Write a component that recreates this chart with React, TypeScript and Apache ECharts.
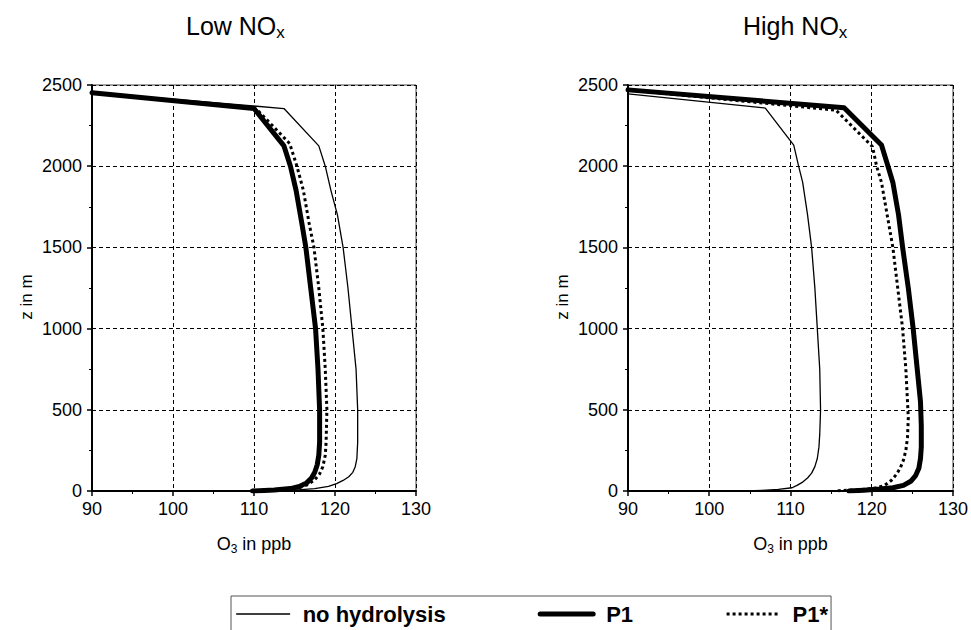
import React, { useEffect, useRef } from "react";
import * as echarts from "echarts";

// [O3 in ppb, z in m]
const lowNoHydrolysis: [number, number][] = [
  [90, 2455], [113.7, 2355], [118.0, 2125], [118.8, 2000], [119.5, 1850], [120.3, 1700],
  [121.0, 1500], [121.6, 1250], [122.1, 1000], [122.6, 750], [122.8, 500], [122.8, 300],
  [122.7, 200], [122.5, 150], [122.2, 115], [121.7, 88], [121.0, 65], [120.2, 45],
  [119.2, 28], [117.5, 14], [115.0, 5], [110, 0],
];
const lowP1: [number, number][] = [
  [90, 2452], [110, 2355], [113.7, 2125], [114.5, 2000], [115.2, 1850], [115.9, 1650],
  [116.4, 1500], [117.0, 1250], [117.6, 1000], [117.9, 750], [118.1, 500], [118.1, 300],
  [118.0, 220], [117.8, 160], [117.5, 115], [117.1, 80], [116.5, 50], [115.6, 28],
  [114.5, 15], [112.5, 6], [109.8, 0],
];
const lowP1Star: [number, number][] = [
  [90, 2452], [110.3, 2352], [114.4, 2140], [115.3, 2000], [116.1, 1850], [116.8, 1650],
  [117.4, 1500], [118.0, 1250], [118.5, 1000], [118.8, 750], [119.0, 500], [118.9, 300],
  [118.8, 220], [118.5, 150], [118.1, 105], [117.5, 70], [116.7, 40], [115.5, 20],
  [113.5, 8], [110, 0],
];
const highNoHydrolysis: [number, number][] = [
  [90, 2445], [106.9, 2358], [110.4, 2130], [111.0, 2000], [111.5, 1900], [112.1, 1700],
  [112.6, 1500], [113.0, 1250], [113.3, 1000], [113.6, 750], [113.7, 500], [113.6, 350],
  [113.5, 270], [113.3, 200], [113.0, 150], [112.6, 110], [112.1, 80], [111.5, 55],
  [110.8, 35], [110.2, 20], [108.5, 10], [106.5, 4], [104.5, 0],
];
const highP1: [number, number][] = [
  [90, 2470], [116.6, 2360], [121.2, 2130], [122.0, 2000], [122.6, 1900], [123.3, 1700],
  [123.8, 1500], [124.5, 1250], [125.1, 1000], [125.6, 750], [126.0, 550], [126.1, 400],
  [126.1, 270], [126.0, 200], [125.8, 140], [125.4, 95], [124.8, 60], [123.9, 35],
  [122.6, 20], [121.0, 12], [119.0, 5], [117.2, 0],
];
const highP1Star: [number, number][] = [
  [90, 2470], [115.6, 2345], [120.1, 2120], [120.6, 2000], [121.2, 1900], [121.9, 1700],
  [122.6, 1500], [123.2, 1250], [123.8, 1000], [124.2, 750], [124.4, 550], [124.5, 450],
  [124.4, 330], [124.2, 250], [123.9, 190], [123.5, 140], [123.0, 100], [122.4, 65],
  [121.6, 35], [120.5, 18], [118.5, 8], [116.0, 2], [115.5, 0],
];

const panelTitles = ["Low NO", "High NO"];
const seriesNames = ["no hydrolysis", "P1", "P1*"];
const xRange = { min: 90, max: 130, interval: 10 };
const yRange = { min: 0, max: 2500, interval: 500 };

const FONT = "'Liberation Sans', Arial, Helvetica, sans-serif";

export default function App() {
  const ref = useRef<HTMLDivElement>(null);
  useEffect(() => {
    if (!ref.current) return;
    const chart = echarts.init(ref.current, undefined, { renderer: "svg" });
    const grids = [
      { left: 92, top: 85, width: 324, height: 406 },
      { left: 628, top: 85, width: 326, height: 406 },
    ];
    const mkX = (gi: number) => ({
      type: "value",
      gridIndex: gi,
      min: xRange.min,
      max: xRange.max,
      interval: xRange.interval,
      name: "{a|O}{s|3}{a| in ppb}",
      nameLocation: "middle",
      nameGap: 42,
      nameTextStyle: {
        rich: {
          a: { fontSize: 18, lineHeight: 22, color: "#000", fontFamily: FONT, verticalAlign: "middle" },
          s: { fontSize: 12, lineHeight: 14, color: "#000", fontFamily: FONT, verticalAlign: "bottom" },
        },
      },
      axisLine: { show: true, onZero: false, lineStyle: { color: "#000", width: 2 } },
      axisTick: { show: true, length: 5, lineStyle: { color: "#000", width: 1.5 } },
      minorTick: { show: true, splitNumber: 2, length: 3, lineStyle: { color: "#000", width: 1 } },
      axisLabel: { color: "#000", fontSize: 18, fontFamily: FONT, margin: 9, formatter: (v: number) => String(v) },
      splitLine: { show: true, lineStyle: { color: "#000", type: [4, 3], width: 1 } },
    });
    const mkY = (gi: number) => ({
      type: "value",
      gridIndex: gi,
      min: yRange.min,
      max: yRange.max,
      interval: yRange.interval,
      name: "z in m",
      nameLocation: "middle",
      nameGap: 57,
      nameRotate: 90,
      nameTextStyle: { fontSize: 17, color: "#000", fontFamily: FONT, padding: [0, 18, 0, 0] },
      axisLine: { show: true, onZero: false, lineStyle: { color: "#000", width: 2 } },
      axisTick: { show: true, length: 5, lineStyle: { color: "#000", width: 1.5 } },
      minorTick: { show: true, splitNumber: 2, length: 3, lineStyle: { color: "#000", width: 1 } },
      axisLabel: { color: "#000", fontSize: 18, fontFamily: FONT, margin: 10, formatter: (v: number) => String(v) },
      splitLine: { show: true, lineStyle: { color: "#000", type: [4, 3], width: 1 } },
    });
    const styles = [
      { color: "#000", width: 1.3, type: "solid" },
      { color: "#000", width: 5, type: "solid" },
      { color: "#000", width: 3, type: [3, 3] },
    ];
    const panels = [
      [lowNoHydrolysis, lowP1, lowP1Star],
      [highNoHydrolysis, highP1, highP1Star],
    ];
    const series: any[] = [];
    panels.forEach((p, gi) => {
      p.forEach((data, si) => {
        series.push({
          type: "line",
          name: seriesNames[si],
          xAxisIndex: gi,
          yAxisIndex: gi,
          data,
          symbol: "none",
          smooth: false,
          itemStyle: { color: "#000" },
          lineStyle: { ...styles[si], cap: si === 2 ? "butt" : "round", join: "round" },
          z: si === 1 ? 4 : 3,
        });
      });
    });
    const titleRich = {
      a: { fontSize: 25, lineHeight: 30, color: "#000", fontWeight: "normal", fontFamily: FONT, verticalAlign: "middle" },
      s: { fontSize: 17, lineHeight: 21, color: "#000", fontWeight: "normal", fontFamily: FONT, verticalAlign: "bottom" },
    };
    chart.setOption({
      animation: false,
      backgroundColor: "#fff",
      textStyle: { fontFamily: FONT },
      title: [
        { text: `{a|${panelTitles[0]}}{s|x}`, left: 186, top: 11, padding: 0, textStyle: { fontWeight: "normal", rich: titleRich } },
        { text: `{a|${panelTitles[1]}}{s|x}`, left: 743, top: 11, padding: 0, textStyle: { fontWeight: "normal", rich: titleRich } },
      ],
      grid: grids.map((g) => ({ ...g, show: true, borderColor: "#444", borderWidth: 1, backgroundColor: "transparent" })),
      xAxis: [mkX(0), mkX(1)],
      yAxis: [mkY(0), mkY(1)],
      legend: {
        left: 231,
        top: 596,
        orient: "horizontal",
        itemWidth: 53,
        itemHeight: 14,
        itemGap: 92,
        borderColor: "#555",
        borderWidth: 1,
        padding: [7, 3, 20, 5],
        itemStyle: { color: "rgba(0,0,0,0)", borderColor: "rgba(0,0,0,0)", borderWidth: 0, opacity: 0 },
        textStyle: { fontSize: 22, fontWeight: "bold", color: "#000", fontFamily: FONT, padding: [0, 0, 0, 8] },
        data: [
          { name: seriesNames[0], lineStyle: { width: 1.3, color: "#000" } },
          { name: seriesNames[1], lineStyle: { width: 5, color: "#000" } },
          { name: seriesNames[2], lineStyle: { width: 3, type: [3, 3], color: "#000" } },
        ],
      },
      series,
    } as any);
    return () => chart.dispose();
  }, []);
  return <div ref={ref} style={{ position: "absolute", left: 0, top: 0, width: 971, height: 630 }} />;
}
